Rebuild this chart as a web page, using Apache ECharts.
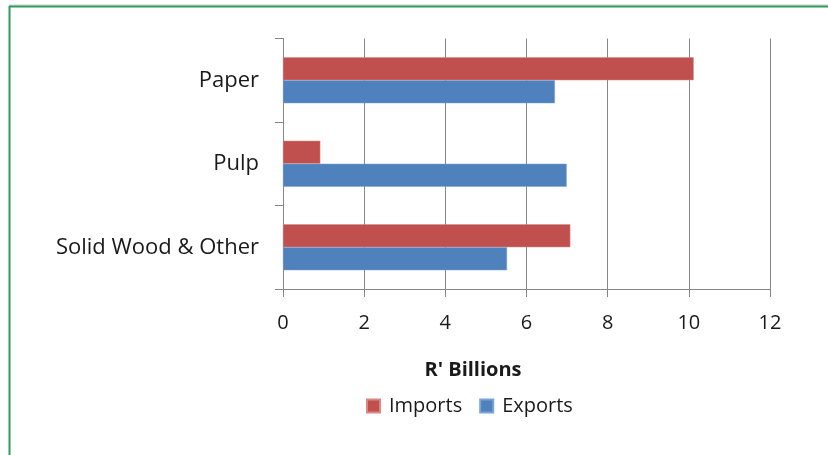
<!DOCTYPE html>
<html>
<head>
<meta charset="utf-8">
<script src="https://cdn.jsdelivr.net/npm/echarts@6/dist/echarts.min.js"></script>
<style>html,body{margin:0;padding:0;background:#fff;}#c{width:828px;height:455px;}</style>
</head>
<body>
<div id="c"></div>
<script>
var categories = ['Solid Wood & Other', 'Pulp', 'Paper'];
var imports = [7.08, 0.92, 10.12];
var exports = [5.52, 6.99, 6.70];
var xTicks = [0, 2, 4, 6, 8, 10, 12];

var chart = echarts.init(document.getElementById('c'));
var fontFam = '"Open Sans", sans-serif';
chart.setOption({
  animation: false,
  backgroundColor: '#ffffff',
  grid: { left: 283, right: 58, top: 38.5, bottom: 166, containLabel: false },
  title: {
    text: "R' Billions",
    left: 468, top: 355, textAlign: 'center',
    textStyle: { fontFamily: fontFam, fontSize: 20, fontWeight: 'bold', color: '#1a1a1a' }
  },
  legend: {
    data: ['Imports', 'Exports'],
    left: 361, top: 391,
    itemWidth: 13, itemHeight: 13, itemGap: 17,
    icon: 'rect',
    textStyle: { fontFamily: fontFam, fontSize: 20, color: '#1a1a1a', padding: [0, 0, 0, 4] }
  },
  xAxis: {
    type: 'value', min: xTicks[0], max: xTicks[xTicks.length - 1], interval: 2,
    axisLine: { show: true, lineStyle: { color: '#868686', width: 1 } },
    axisTick: { show: true, length: 8, lineStyle: { color: '#868686' } },
    splitLine: { show: true, lineStyle: { color: '#868686', width: 1 } },
    axisLabel: { margin: 24, fontFamily: fontFam, fontSize: 20, color: '#1a1a1a' }
  },
  yAxis: {
    type: 'category', data: categories,
    axisLine: { show: true, lineStyle: { color: '#868686', width: 1 } },
    axisTick: { show: true, length: 8, lineStyle: { color: '#868686' } },
    axisLabel: { margin: 24, fontFamily: fontFam, fontSize: 22, color: '#1a1a1a', padding: [6, 0, 0, 0] }
  },
  series: [
    { name: 'Imports', type: 'bar', data: imports, barWidth: 23, barGap: '0%',
      itemStyle: { color: '#C0504D', borderColor: '#d98886', borderWidth: 0.5 } },
    { name: 'Exports', type: 'bar', data: exports, barWidth: 23, barGap: '0%',
      itemStyle: { color: '#4F81BD', borderColor: '#7aa3d6', borderWidth: 0.5 } }
  ],
  graphic: [
    { type: 'line', shape: { x1: 9, y1: 5, x2: 828, y2: 5 }, style: { stroke: '#c8c8c8', lineWidth: 1 } },
    { type: 'line', shape: { x1: 9, y1: 6.5, x2: 828, y2: 6.5 }, style: { stroke: '#2e9a5e', lineWidth: 2 } },
    { type: 'line', shape: { x1: 9.5, y1: 6, x2: 9.5, y2: 455 }, style: { stroke: '#2e9a5e', lineWidth: 2 } }
  ]
});
</script>
</body>
</html>
